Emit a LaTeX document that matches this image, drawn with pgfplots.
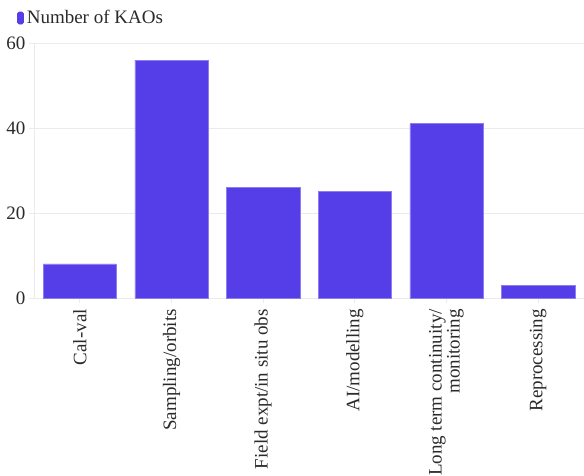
\documentclass[border=0pt]{standalone}
\usepackage{fontspec}
\setmainfont{Liberation Serif}
\usepackage{pgfplots}
\pgfplotsset{compat=1.18}
\definecolor{kao}{HTML}{553DE8}
\definecolor{kaoedge}{HTML}{8C7DF0}
\definecolor{gridc}{HTML}{EBEBEB}
\definecolor{txt}{HTML}{2A2A2A}
\begin{document}
\begin{tikzpicture}[x=1pt,y=1pt]
\path[use as bounding box] (0,0) rectangle (584,476);
\begin{axis}[
  at={(34pt,178pt)}, anchor=south west,
  scale only axis, width=550pt, height=255pt,
  xmin=-0.5, xmax=5.5, ymin=0, ymax=60,
  ytick={0,20,40,60},
  xtick={0,1,2,3,4,5},
  xticklabels={Cal-val,Sampling/orbits,Field expt/in situ obs,AI/modelling,{Long term continuity/\\monitoring},Reprocessing},
  x tick label style={rotate=90, anchor=east, align=right, font=\fontsize{19}{18}\selectfont, text=txt, inner sep=0pt},
  xticklabel shift=6pt,
  y tick label style={font=\fontsize{19}{18}\selectfont, text=txt},
  /pgf/number format/assume math mode=true,
  ymajorgrids, grid style={gridc, line width=0.8pt},
  axis line style={gridc, line width=0.8pt},
  axis x line*=bottom, axis y line*=left,
  tick style={gridc, line width=0.8pt},
  major tick length=5pt, tick align=outside,
  enlargelimits=false, clip=false,
  legend style={at={(rel axis cs:0,1)}, anchor=west, xshift=-20pt, yshift=25pt,
    draw=none, fill=none, font=\fontsize{19}{18}\selectfont, text=txt,
    nodes={inner sep=1.5pt, inner xsep=3pt}},
  legend image code/.code={\fill[kao, rounded corners=1.5pt] (-2pt,-6pt) rectangle (4pt,6pt);},
  legend cell align=left,
]
\addplot[ybar, bar width=0.8, fill=kao, draw=kaoedge, line width=0.6pt] coordinates {
(0,8) (1,56) (2,26) (3,25) (4,41) (5,3)};
\addlegendentry{Number of KAOs}
\end{axis}
\end{tikzpicture}
\end{document}
